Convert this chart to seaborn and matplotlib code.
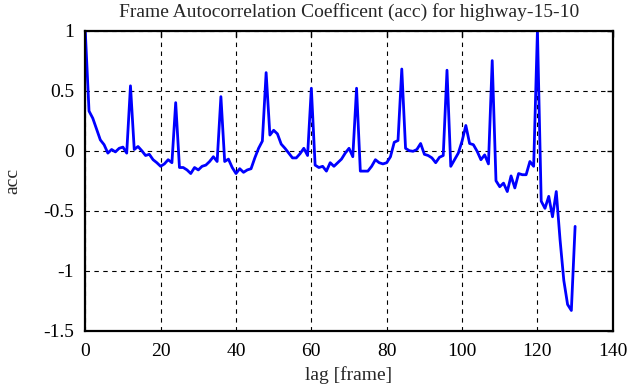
import numpy as np
import pandas as pd
import matplotlib
matplotlib.use("Agg")
import matplotlib.pyplot as plt
import seaborn as sns

lag = list(range(0, 131))
acc = [
    1.0, 0.33, 0.27, 0.18, 0.09, 0.05, -0.02, 0.01, -0.01, 0.02,
    0.03, -0.02, 0.54, 0.01, 0.035, 0.0, -0.04, -0.03, -0.075, -0.10,
    -0.13, -0.11, -0.075, -0.10, 0.40, -0.14, -0.14, -0.16, -0.19, -0.14,
    -0.16, -0.13, -0.12, -0.09, -0.05, -0.09, 0.45, -0.09, -0.07, -0.14,
    -0.19, -0.15, -0.18, -0.16, -0.15, -0.06, 0.02, 0.08, 0.65, 0.13,
    0.17, 0.14, 0.055, 0.02, -0.02, -0.06, -0.06, -0.025, 0.02, -0.04,
    0.52, -0.12, -0.14, -0.13, -0.17, -0.10, -0.13, -0.10, -0.07, -0.02,
    0.02, -0.05, 0.52, -0.17, -0.17, -0.17, -0.13, -0.075, -0.10, -0.11,
    -0.10, -0.05, 0.07, 0.085, 0.68, 0.02, 0.0, -0.005, 0.01, 0.06,
    -0.03, -0.04, -0.06, -0.10, -0.055, -0.04, 0.67, -0.13, -0.075, -0.02,
    0.08, 0.21, 0.06, 0.05, -0.005, -0.075, -0.035, -0.11, 0.75, -0.25,
    -0.30, -0.27, -0.34, -0.21, -0.31, -0.19, -0.20, -0.20, -0.09, -0.13,
    1.0, -0.42, -0.48, -0.38, -0.55, -0.34, -0.74, -1.08, -1.28, -1.33,
    -0.63,
]

x_ticks = [0, 20, 40, 60, 80, 100, 120, 140]
y_ticks = [-1.5, -1, -0.5, 0, 0.5, 1]
y_tick_labels = ["-1.5", "-1", "-0.5", "0", "0.5", "1"]

title = "Frame Autocorrelation Coefficent (acc) for highway-15-10"
xlabel = "lag [frame]"
ylabel = "acc"

sns.set_style("white")
plt.rcParams["font.family"] = ["Liberation Serif", "DejaVu Serif"]
plt.rcParams["font.size"] = 14

df = pd.DataFrame({"lag": lag, "acc": acc})

fig = plt.figure(figsize=(6.41, 3.87), dpi=100)
ax = fig.add_axes([0.133, 0.145, 0.823, 0.776])

sns.lineplot(data=df, x="lag", y="acc", color="#0000ff", linewidth=2.0, ax=ax)

ax.set_xlim(0, 140)
ax.set_ylim(-1.5, 1)
ax.set_xticks(x_ticks)
ax.set_xticklabels([str(t) for t in x_ticks])
ax.set_yticks(y_ticks)
ax.set_yticklabels(y_tick_labels)

ax.grid(True, color="black", linestyle=(0, (4, 4)), linewidth=0.8)
ax.set_axisbelow(True)

for s in ax.spines.values():
    s.set_color("black")
    s.set_linewidth(1.6)
    s.set_visible(True)

ax.tick_params(direction="in", length=4, width=1, top=True, right=True,
               labelsize=14, colors="black")
ax.tick_params(axis="x", pad=9)
ax.tick_params(axis="y", pad=8)

ax.set_title(title, fontsize=14, pad=10)
ax.set_xlabel(xlabel, fontsize=14, labelpad=4)
ax.set_ylabel(ylabel, fontsize=14, labelpad=16)

fig.savefig("out.png", dpi=100)
